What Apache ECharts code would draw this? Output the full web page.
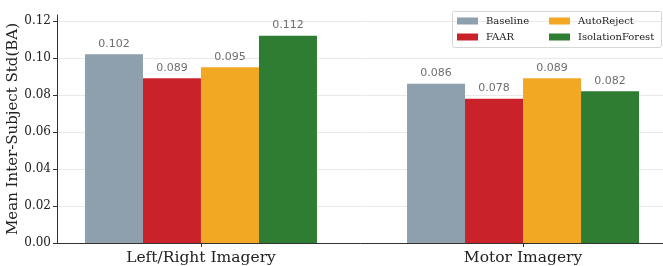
<!DOCTYPE html>
<html>
<head>
<meta charset="utf-8">
<script src="https://cdn.jsdelivr.net/npm/echarts@6/dist/echarts.min.js"></script>
<style>
  html, body { margin: 0; padding: 0; background: #fff; }
  #chart { width: 663px; height: 266px; }
</style>
</head>
<body>
<div id="chart"></div>
<script>
// 数据
const categories = ['Left/Right Imagery', 'Motor Imagery'];
const methods = ['Baseline', 'FAAR', 'AutoReject', 'IsolationForest'];
const baseline = [0.102, 0.086];
const faar = [0.089, 0.078];
const autoReject = [0.095, 0.089];
const isolationForest = [0.112, 0.082];
const yTicks = [0, 0.02, 0.04, 0.06, 0.08, 0.10, 0.12];
const colors = ['#8e9fad', '#c9222b', '#f2a823', '#2e7d32'];

const serif = '"DejaVu Serif", serif';
const chart = echarts.init(document.getElementById('chart'));

const seriesValues = [baseline, faar, autoReject, isolationForest];
const series = methods.map((name, i) => ({
  name,
  type: 'bar',
  barWidth: 58,
  barGap: '0%',
  itemStyle: {color: colors[i]},
  label: {
    show: true,
    position: 'top',
    distance: 5,
    fontFamily: '"DejaVu Sans", sans-serif',
    fontSize: 11,
    color: '#6e6e6e',
    formatter: (p) => p.value[1].toFixed(3)
  },
  data: seriesValues[i].map((v, k) => [k, v])
}));

// 图例两列（matplotlib ncol=2 风格）
const legendText = {fontFamily: serif, fontSize: 10, color: '#222', lineHeight: 12, padding: [0, 0, 0, 3]};
const legendBase = {
  orient: 'vertical',
  top: 15,
  padding: 0,
  itemWidth: 21,
  itemHeight: 7,
  itemGap: 4,
  icon: 'rect',
  textStyle: legendText
};

chart.setOption({
  animation: false,
  grid: {left: 57, top: 15, width: 610, bottom: 23, outerBoundsMode: 'none', containLabel: false},
  xAxis: {
    type: 'value',
    min: -0.447,
    max: 1.447,
    splitLine: {show: false},
    axisLine: {show: true, onZero: false, lineStyle: {color: '#333', width: 1}},
    axisTick: {show: true, customValues: [0, 1], length: 4, lineStyle: {color: '#333'}},
    axisLabel: {
      customValues: [0, 1],
      formatter: (v) => categories[Math.round(v)],
      fontFamily: serif,
      fontSize: 15.5,
      color: '#222',
      margin: 7
    }
  },
  yAxis: {
    type: 'value',
    min: 0,
    max: 0.1232,
    interval: 0.02,
    name: 'Mean Inter-Subject Std(BA)',
    nameLocation: 'middle',
    nameGap: 36,
    nameMoveOverlap: false,
    nameTextStyle: {fontFamily: serif, fontSize: 15, color: '#222'},
    axisLine: {show: true, onZero: false, lineStyle: {color: '#333', width: 1}},
    axisTick: {show: true, customValues: yTicks, length: 4, lineStyle: {color: '#333'}},
    axisLabel: {
      customValues: yTicks,
      formatter: (v) => v.toFixed(2),
      fontFamily: serif,
      fontSize: 12,
      color: '#222',
      margin: 6
    },
    splitLine: {
      show: true,
      lineStyle: {color: ['#ece8e4', '#ece8e4', '#ece8e4', '#ece8e4', '#ece8e4', '#ece8e4', '#ece8e4', 'transparent'], width: 1}
    }
  },
  legend: [
    Object.assign({data: ['Baseline', 'FAAR'], left: 457}, legendBase),
    Object.assign({data: ['AutoReject', 'IsolationForest'], left: 549}, legendBase)
  ],
  graphic: [{
    type: 'rect',
    left: 452,
    top: 11,
    z: 0,
    shape: {width: 209, height: 36, r: 2},
    style: {fill: '#fff', stroke: '#d6d6d6', lineWidth: 1}
  }],
  series
});
</script>
</body>
</html>
